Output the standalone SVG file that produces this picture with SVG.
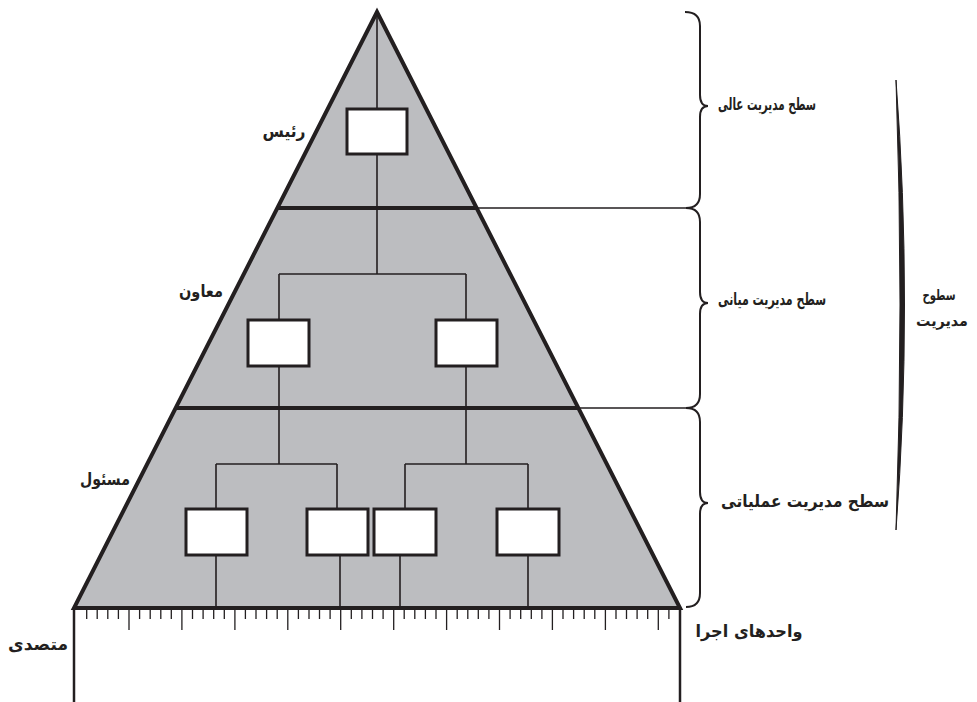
<svg xmlns="http://www.w3.org/2000/svg" width="977" height="702" viewBox="0 0 977 702">
<style>
.lbl{font-family:"DejaVu Sans","Noto Sans",sans-serif;font-weight:bold;font-size:17px;fill:#231f20;text-anchor:middle;direction:rtl}
.sm{font-size:15px}
.box{fill:#ffffff;stroke:#231f20;stroke-width:3}
.conn{fill:none;stroke:#231f20;stroke-width:1.6}
.thick{fill:none;stroke:#231f20;stroke-width:4}
.thin{fill:none;stroke:#231f20;stroke-width:1.3}
.brace{fill:none;stroke:#231f20;stroke-width:2}
</style>
<rect width="977" height="702" fill="#ffffff"/>
<g id="pyramid">
<polygon points="377,12 74,608 680,608" fill="#bcbdc0" stroke="#231f20" stroke-width="4" stroke-linejoin="miter"/>
<line class="thick" x1="278" y1="208" x2="476" y2="208"/>
<line class="thick" x1="177" y1="408" x2="578" y2="408"/>
</g>
<g id="ruler">
<path class="thin" d="M86.7,610V619M97.2,610V619M107.8,610V619M118.4,610V619M139.6,610V619M150.2,610V619M160.8,610V619M171.3,610V619M192.5,610V619M203.1,610V619M213.7,610V619M224.3,610V619M245.4,610V619M256,610V619M266.6,610V619M277.2,610V619M298.4,610V619M309,610V619M319.5,610V619M330.1,610V619M351.3,610V619M361.9,610V619M372.5,610V619M383.1,610V619M404.2,610V619M414.8,610V619M425.4,610V619M436,610V619M457.2,610V619M467.8,610V619M478.3,610V619M488.9,610V619M510.1,610V619M520.7,610V619M531.3,610V619M541.9,610V619M563,610V619M573.6,610V619M584.2,610V619M594.8,610V619M616,610V619M626.5,610V619M637.1,610V619M647.7,610V619M668.9,610V619"/>
<path class="thin" d="M129,610V630M181.9,610V630M234.9,610V630M287.8,610V630M340.7,610V630M393.7,610V630M446.6,610V630M499.5,610V630M552.4,610V630M605.4,610V630M658.3,610V630"/>
<line x1="74" y1="608" x2="74" y2="702" stroke="#231f20" stroke-width="2.5"/>
<line x1="680" y1="608" x2="680" y2="702" stroke="#231f20" stroke-width="2.5"/>
</g>
<g id="connectors">
<path class="conn" d="M377,12V109M377,154V274M279,274H466M279,274V320M466,274V320"/>
<path class="conn" d="M279,366V464M216,464H337M216,464V509M337,464V509"/>
<path class="conn" d="M466,366V464M405,464H528M405,464V509M528,464V509"/>
<path class="conn" d="M216,555V608M340,555V608M400,555V608M528,555V608"/>
<path class="thin" d="M476,208H687M578,408H687"/>
</g>
<g id="braces">
<path class="brace" d="M685,12Q700,12 700,26V95Q700,106 708,106Q700,106 700,117V194Q700,208 686,208"/>
<path class="brace" d="M686,208Q700,208 700,222V292Q700,303 708,303Q700,303 700,314V394Q700,408 686,408"/>
<path class="brace" d="M686,408Q700,408 700,422V492Q700,503 708,503Q700,503 700,514V593Q700,607 686,607"/>
<path d="M896,80Q913,305 896,530Q904,305 896,80Z" fill="#231f20" stroke="#231f20" stroke-width="1"/>
</g>
<g id="node-president"><rect class="box" x="347" y="109" width="60" height="45"/></g>
<g id="node-deputy-left"><rect class="box" x="248" y="320" width="61" height="46"/></g>
<g id="node-deputy-right"><rect class="box" x="436" y="320" width="61" height="46"/></g>
<g id="node-supervisor-1"><rect class="box" x="186" y="509" width="61" height="46"/></g>
<g id="node-supervisor-2"><rect class="box" x="307" y="509" width="61" height="46"/></g>
<g id="node-supervisor-3"><rect class="box" x="374" y="509" width="62" height="46"/></g>
<g id="node-supervisor-4"><rect class="box" x="497" y="509" width="62" height="46"/></g>
<g id="labels">
<text class="lbl" x="284" y="137" textLength="43" lengthAdjust="spacingAndGlyphs">رئیس</text>
<text class="lbl" x="201" y="297" textLength="44" lengthAdjust="spacingAndGlyphs">معاون</text>
<text class="lbl" x="105" y="485" textLength="50" lengthAdjust="spacingAndGlyphs">مسئول</text>
<text class="lbl" x="38" y="650" textLength="60" lengthAdjust="spacingAndGlyphs">متصدی</text>
<text class="lbl" x="749" y="637" textLength="107" lengthAdjust="spacingAndGlyphs">واحدهای اجرا</text>
<text class="lbl" x="767" y="110" textLength="98" lengthAdjust="spacingAndGlyphs">سطح مدیریت عالی</text>
<text class="lbl" x="772" y="305" textLength="108" lengthAdjust="spacingAndGlyphs">سطح مدیریت میانی</text>
<text class="lbl" x="805" y="507" textLength="168" lengthAdjust="spacingAndGlyphs">سطح مدیریت عملیاتی</text>
<text class="lbl sm" x="939" y="300" textLength="33" lengthAdjust="spacingAndGlyphs">سطوح</text>
<text class="lbl sm" x="942" y="326" textLength="52" lengthAdjust="spacingAndGlyphs">مدیریت</text>
</g>
</svg>
